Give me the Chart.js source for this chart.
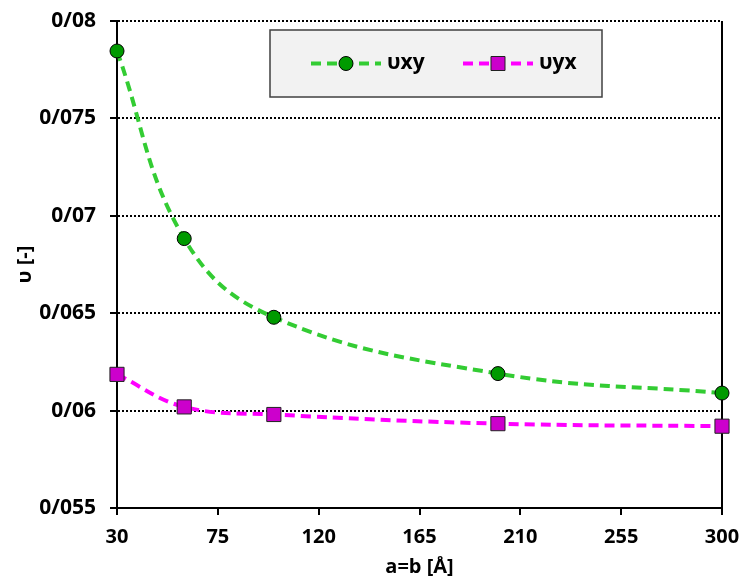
<!DOCTYPE html>
<html>
<head>
<meta charset="utf-8">
<script src="https://cdn.jsdelivr.net/npm/chart.js@4.4.0/dist/chart.umd.min.js"></script>
<style>
  html, body { margin: 0; padding: 0; background: #fff; }
  #wrap { width: 742px; height: 579px; }
</style>
</head>
<body>
<div id="wrap"><canvas id="myChart" width="742" height="579"></canvas></div>
<script>
// a=b [Å]
var sizes = [30, 60, 100, 200, 300];
var nuXY = [0.07846, 0.06883, 0.06479, 0.0619, 0.0609];
var nuYX = [0.06186, 0.06019, 0.0598, 0.05933, 0.0592];
var seriesNames = ['υxy', 'υyx'];
var xTicks = [30, 75, 120, 165, 210, 255, 300];
var yTicks = [0.055, 0.06, 0.065, 0.07, 0.075, 0.08];

var FONT = '"Open Sans", Lato, sans-serif';

function pairs(ys) {
    var out = [];
    for (var i = 0; i < sizes.length; i++) {
        out.push({ x: sizes[i], y: ys[i] });
    }
    return out;
}

// tick label with "/" as decimal mark, e.g. 0/075
function fmt(v) {
    return Number(v.toFixed(3)).toString().replace('.', '/');
}

// boxed legend: dashed line with the marker in the middle
const boxLegend = {
    id: 'boxLegend',
    afterDraw(chart) {
        const ctx = chart.ctx;
        const a = chart.chartArea;
        const bx = a.left + 153, by = a.top + 9, bw = 332, bh = 67;
        ctx.save();
        ctx.fillStyle = '#f2f2f2';
        ctx.fillRect(bx, by, bw, bh);
        ctx.strokeStyle = '#404040';
        ctx.lineWidth = 1.5;
        ctx.strokeRect(bx, by, bw, bh);

        const cy = by + 33.5;
        const starts = [bx + 41, bx + 193];
        chart.data.datasets.forEach(function (ds, i) {
            const x0 = starts[i];
            ctx.setLineDash([10, 6]);
            ctx.lineWidth = ds.borderWidth;
            ctx.strokeStyle = ds.borderColor;
            ctx.beginPath();
            ctx.moveTo(x0, cy);
            ctx.lineTo(x0 + 70, cy);
            ctx.stroke();
            ctx.setLineDash([]);
            ctx.fillStyle = ds.pointBackgroundColor;
            ctx.strokeStyle = ds.pointBorderColor;
            ctx.lineWidth = 1;
            ctx.beginPath();
            if (ds.pointStyle === 'rect') {
                ctx.rect(x0 + 35 - 7, cy - 7, 14, 14);
            } else {
                ctx.arc(x0 + 35, cy, 7, 0, Math.PI * 2);
            }
            ctx.fill();
            ctx.stroke();
            ctx.fillStyle = '#000';
            ctx.font = 'bold 21px ' + FONT;
            ctx.textBaseline = 'middle';
            ctx.fillText(seriesNames[i], x0 + 76, cy);
        });
        ctx.restore();
    }
};

new Chart(document.getElementById('myChart'), {
    type: 'line',
    data: {
        datasets: [
            {
                label: seriesNames[0],
                data: pairs(nuXY),
                borderColor: '#33cc33',
                borderWidth: 4,
                borderDash: [10, 6],
                pointStyle: 'circle',
                pointRadius: 7,
                pointHoverRadius: 7,
                pointBackgroundColor: '#009a00',
                pointBorderColor: '#000',
                pointBorderWidth: 1,
                tension: 0.4,
                clip: false
            },
            {
                label: seriesNames[1],
                data: pairs(nuYX),
                borderColor: '#ff00ff',
                borderWidth: 4,
                borderDash: [10, 6],
                pointStyle: 'rect',
                pointRadius: 10,
                pointHoverRadius: 10,
                pointBackgroundColor: '#cc00cc',
                pointBorderColor: '#222',
                pointBorderWidth: 1,
                tension: 0.4,
                clip: false
            }
        ]
    },
    options: {
        responsive: false,
        animation: false,
        layout: { padding: { top: 21, right: 20, left: 0, bottom: 0 } },
        plugins: {
            legend: { display: false },
            tooltip: { enabled: false }
        },
        scales: {
            x: {
                type: 'linear',
                min: 30,
                max: 300,
                afterBuildTicks(scale) {
                    scale.ticks = xTicks.map(v => ({ value: v }));
                },
                afterFit(scale) {
                    scale.height = 71;
                    scale.paddingLeft = 0;
                    scale.paddingRight = 0;
                },
                ticks: {
                    color: '#000',
                    padding: 10,
                    font: { family: FONT, size: 20, weight: 'bold' },
                    maxRotation: 0
                },
                grid: {
                    // only the right-hand frame line is drawn inside the plot
                    color: ctx => ctx.index === xTicks.length - 1 ? '#000' : 'rgba(0,0,0,0)',
                    lineWidth: 2,
                    tickColor: '#000',
                    tickLength: 7,
                    tickWidth: 2
                },
                border: { color: '#000', width: 2 },
                title: {
                    display: true,
                    text: 'a=b [Å]',
                    color: '#000',
                    font: { family: FONT, size: 20, weight: 'bold' },
                    padding: 0
                }
            },
            y: {
                min: 0.055,
                max: 0.08,
                afterBuildTicks(scale) {
                    scale.ticks = yTicks.map(v => ({ value: v }));
                },
                afterFit(scale) {
                    scale.width = 117;
                    scale.paddingTop = 0;
                    scale.paddingBottom = 0;
                },
                ticks: {
                    color: '#000',
                    padding: 14,
                    font: { family: FONT, size: 21, weight: 'bold' },
                    callback: v => fmt(v)
                },
                grid: {
                    color: '#000',
                    lineWidth: 2,
                    tickColor: '#000',
                    tickLength: 7,
                    tickWidth: 2
                },
                border: { color: '#000', width: 2, dash: [2, 2] },
                title: {
                    display: true,
                    text: 'υ [-]',
                    color: '#000',
                    font: { family: FONT, size: 20, weight: 'bold' },
                    padding: { top: 13, bottom: 0 }
                }
            }
        }
    },
    plugins: [boxLegend]
});
</script>
</body>
</html>
